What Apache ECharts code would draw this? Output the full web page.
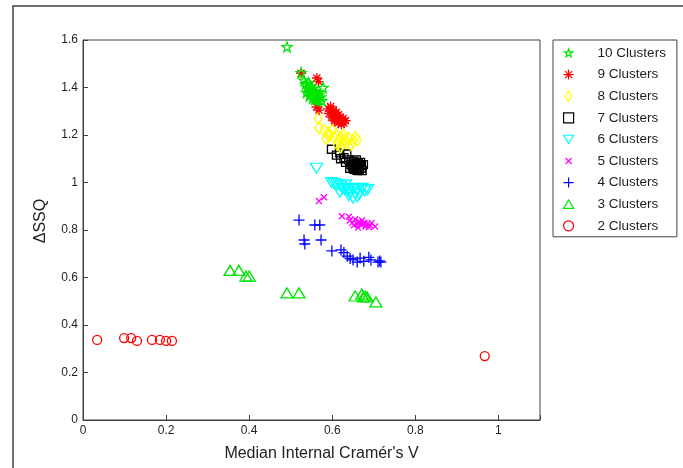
<!DOCTYPE html>
<html>
<head>
<meta charset="utf-8">
<script src="https://cdn.jsdelivr.net/npm/echarts@6/dist/echarts.min.js"></script>
<style>
  html, body { margin: 0; padding: 0; background: #fff; }
  #chart { width: 683px; height: 468px; }
</style>
</head>
<body>
<div id="chart"></div>
<script>
// Median internal Cramér's V (x) against ΔSSQ (y) per clustering run
const seriesNames = ['10 Clusters', '9 Clusters', '8 Clusters', '7 Clusters', '6 Clusters',
                     '5 Clusters', '4 Clusters', '3 Clusters', '2 Clusters'];

const clusters10 = [[0.491,1.571],[0.525,1.462],[0.532,1.43],[0.536,1.415],[0.54,1.40],[0.543,1.42],
  [0.545,1.39],[0.548,1.405],[0.55,1.38],[0.552,1.395],[0.555,1.37],[0.557,1.385],[0.56,1.36],
  [0.562,1.375],[0.565,1.355],[0.558,1.35],[0.568,1.37],[0.572,1.36],[0.578,1.40],[0.575,1.345],
  [0.545,1.365],[0.538,1.38],[0.553,1.355],[0.547,1.375],[0.566,1.345]];
const clusters9 = [[0.525,1.46],[0.563,1.44],[0.567,1.425],[0.562,1.318],[0.568,1.305],[0.59,1.31],
  [0.596,1.32],[0.60,1.29],[0.603,1.305],[0.606,1.28],[0.61,1.295],[0.612,1.27],[0.615,1.285],
  [0.618,1.26],[0.62,1.275],[0.623,1.255],[0.626,1.27],[0.598,1.275],[0.605,1.26],[0.628,1.25],
  [0.632,1.26],[0.592,1.29],[0.608,1.265],[0.614,1.25],[0.622,1.245],[0.601,1.30]];
const clusters8 = [[0.566,1.27],[0.568,1.23],[0.58,1.22],[0.59,1.21],[0.592,1.195],[0.60,1.22],
  [0.604,1.19],[0.61,1.20],[0.615,1.175],[0.62,1.19],[0.625,1.165],[0.63,1.18],[0.635,1.17],
  [0.64,1.185],[0.645,1.16],[0.65,1.175],[0.655,1.19],[0.66,1.18],[0.612,1.16],[0.628,1.20],
  [0.62,1.15],[0.585,1.185]];
const clusters7 = [[0.598,1.14],[0.61,1.115],[0.618,1.125],[0.62,1.10],[0.628,1.105],[0.632,1.085],
  [0.64,1.095],[0.645,1.075],[0.65,1.065],[0.655,1.08],[0.66,1.06],[0.665,1.07],[0.67,1.06],
  [0.668,1.085],[0.662,1.05],[0.652,1.055],[0.642,1.06],[0.658,1.095],[0.675,1.075],[0.635,1.12],
  [0.648,1.07],[0.655,1.065],[0.66,1.075],[0.665,1.055],[0.67,1.072],[0.672,1.05],[0.658,1.052],
  [0.645,1.088],[0.652,1.09],[0.663,1.082]];
const clusters6 = [[0.562,1.06],[0.598,1.0],[0.605,0.995],[0.612,0.99],[0.62,0.985],[0.625,0.975],
  [0.63,0.97],[0.638,0.965],[0.645,0.96],[0.65,0.975],[0.655,0.955],[0.66,0.97],[0.665,0.95],
  [0.672,0.975],[0.678,0.965],[0.685,0.97],[0.64,0.945],[0.65,0.935],[0.632,0.99],[0.618,0.96],
  [0.66,0.94]];
const clusters5 = [[0.568,0.922],[0.58,0.938],[0.623,0.858],[0.64,0.856],[0.642,0.84],[0.648,0.83],
  [0.655,0.845],[0.66,0.825],[0.665,0.835],[0.67,0.82],[0.675,0.83],[0.68,0.815],[0.685,0.825],
  [0.69,0.82],[0.695,0.83],[0.703,0.815],[0.662,0.81],[0.672,0.84],[0.652,0.82],[0.678,0.828],
  [0.668,0.828],[0.688,0.812]];
const clusters4 = [[0.52,0.842],[0.558,0.821],[0.57,0.821],[0.532,0.758],[0.534,0.741],[0.573,0.758],
  [0.599,0.712],[0.621,0.716],[0.628,0.705],[0.636,0.69],[0.643,0.68],[0.65,0.674],[0.667,0.682],
  [0.676,0.668],[0.688,0.685],[0.693,0.674],[0.71,0.665],[0.717,0.665],[0.714,0.67],[0.66,0.665]];
const clusters3 = [[0.354,0.63],[0.375,0.63],[0.392,0.606],[0.40,0.606],[0.491,0.535],[0.52,0.535],
  [0.655,0.522],[0.671,0.53],[0.679,0.522],[0.684,0.518],[0.705,0.497],[0.675,0.518]];
const clusters2 = [[0.034,0.337],[0.099,0.345],[0.116,0.345],[0.13,0.333],[0.166,0.337],
  [0.185,0.337],[0.20,0.333],[0.214,0.333],[0.967,0.269]];

const xTicks = [0, 0.2, 0.4, 0.6, 0.8, 1];
const yTicks = [0, 0.2, 0.4, 0.6, 0.8, 1, 1.2, 1.4, 1.6];

const allData = [clusters10, clusters9, clusters8, clusters7, clusters6,
                 clusters5, clusters4, clusters3, clusters2];

// Outlined marker shapes; legend icons may use a padded variant
const STAR = 'path://M5,0L6.2,3.6L10,3.6L7,5.9L8.1,9.5L5,7.3L1.9,9.5L3,5.9L0,3.6L3.8,3.6Z';
const ASTER = 'path://M5,0L5,10M0,5L10,5M1.5,1.5L8.5,8.5M8.5,1.5L1.5,8.5';
const DIAMOND = 'path://M4,0L8,6L4,12L0,6Z';
const TRI_DOWN = 'path://M0,0L12,0L6,10Z';
const CROSS_X = 'path://M0,0L6,6M6,0L0,6';
const PLUS = 'path://M5,0L5,10M0,5L10,5';
const TRI_UP = 'path://M6,0L12,10L0,10Z';

const markers = [
  { color: '#00e600', symbol: STAR, size: 10, icon: 'path://M0,0M12,12M6,1L7.2,4.6L11,4.6L8,6.9L9.1,10.5L6,8.3L2.9,10.5L4,6.9L1,4.6L4.8,4.6Z' },
  { color: '#ff0000', symbol: ASTER, size: 10, icon: ASTER },
  { color: '#ffff00', symbol: DIAMOND, size: [8, 12], icon: DIAMOND },
  { color: '#000000', symbol: 'rect', size: 8, icon: 'rect' },
  { color: '#00ffff', symbol: TRI_DOWN, size: [12, 10], icon: TRI_DOWN },
  { color: '#ff00ff', symbol: CROSS_X, size: 6, icon: 'path://M0,0M10,10M2,2L8,8M8,2L2,8' },
  { color: '#0000ff', symbol: PLUS, size: 11, icon: PLUS },
  { color: '#00e600', symbol: TRI_UP, size: [12, 10], icon: TRI_UP },
  { color: '#ff0000', symbol: 'circle', size: 9, icon: 'circle' }
];

const FONT = '"Liberation Sans", Arial, sans-serif';
const chart = echarts.init(document.getElementById('chart'), null, { renderer: 'canvas' });

const series = seriesNames.map((name, i) => ({
  name: name,
  type: 'scatter',
  data: allData[i],
  symbol: markers[i].symbol,
  symbolSize: markers[i].size,
  z: 2 + (seriesNames.length - i),
  itemStyle: {
    color: 'rgba(0,0,0,0)',
    borderColor: markers[i].color,
    borderWidth: 1.3,
    opacity: 1
  },
  emphasis: { disabled: true }
}));

chart.setOption({
  animation: false,
  backgroundColor: '#ffffff',
  textStyle: { fontFamily: FONT },
  grid: {
    left: 83, right: 143, top: 40, bottom: 48,
    show: true, borderColor: '#404040', borderWidth: 1, backgroundColor: '#ffffff'
  },
  xAxis: {
    type: 'value', min: 0, max: 1.1, interval: 0.2,
    name: "Median Internal Cramér's V",
    nameLocation: 'middle', nameGap: 26,
    nameTextStyle: { fontSize: 16, color: '#222', fontFamily: FONT, padding: [0, 0, 0, 20] },
    axisLine: { show: true, lineStyle: { color: '#404040', width: 1 } },
    axisTick: { show: true, inside: true, length: 5, lineStyle: { color: '#404040' } },
    splitLine: { show: false },
    axisLabel: {
      fontSize: 12, color: '#1e1e1e', fontFamily: FONT, margin: 5,
      formatter: v => (xTicks.some(t => Math.abs(t - v) < 1e-6) ? String(+v.toFixed(1)) : '')
    }
  },
  yAxis: {
    type: 'value', min: 0, max: 1.6, interval: 0.2,
    name: 'ΔSSQ',
    nameLocation: 'middle', nameGap: 34,
    nameTextStyle: { fontSize: 16, color: '#222', fontFamily: FONT, padding: [0, 0, 0, 18] },
    axisLine: { show: true, lineStyle: { color: '#404040', width: 1 } },
    axisTick: { show: true, inside: true, length: 5, lineStyle: { color: '#404040' } },
    splitLine: { show: false },
    axisLabel: {
      fontSize: 12, color: '#1e1e1e', fontFamily: FONT, margin: 5,
      formatter: v => (yTicks.some(t => Math.abs(t - v) < 1e-6) ? String(+v.toFixed(1)) : '')
    }
  },
  legend: {
    orient: 'vertical',
    left: 553, top: 40,
    padding: [5, 11, 3, 10],
    itemWidth: 10, itemHeight: 10, itemGap: 5.6,
    borderColor: '#404040', borderWidth: 1, backgroundColor: '#fff',
    selectedMode: false,
    textStyle: { fontSize: 13.5, lineHeight: 16, color: '#1e1e1e', fontFamily: FONT, padding: [0, 0, 0, 19] },
    itemStyle: { borderWidth: 1 },
    data: seriesNames.map((name, i) => ({
      name: name,
      icon: markers[i].icon,
      itemStyle: { color: 'rgba(0,0,0,0)', borderColor: markers[i].color, borderWidth: 1.2 }
    }))
  },
  graphic: [{
    type: 'rect', silent: true, z: -10,
    shape: { x: 13, y: 6, width: 720, height: 520 },
    style: { fill: 'none', stroke: '#707070', lineWidth: 2 }
  }],
  series: series
});
</script>
</body>
</html>
